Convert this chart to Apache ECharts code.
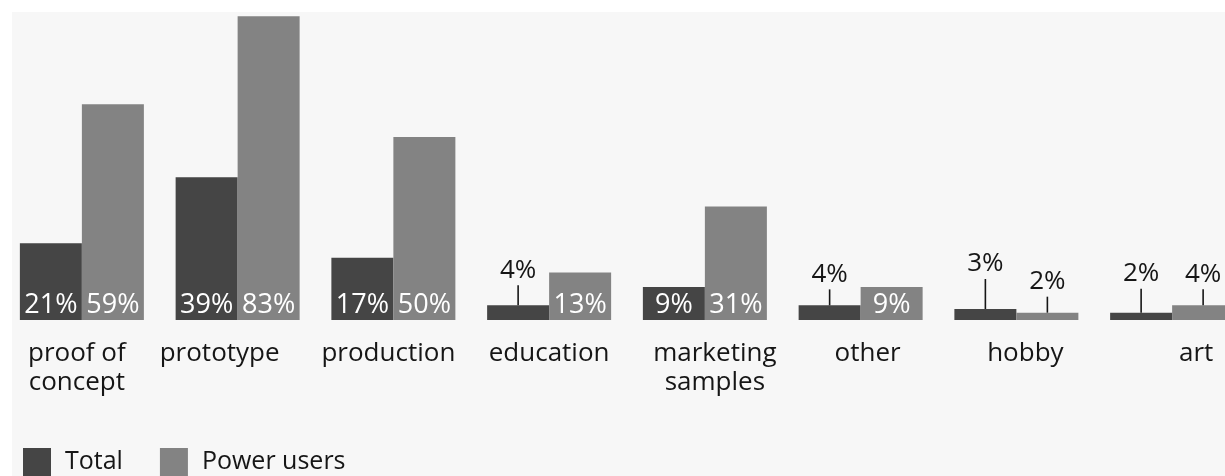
<!DOCTYPE html>
<html>
<head>
<meta charset="utf-8">
<script src="https://cdn.jsdelivr.net/npm/echarts@6/dist/echarts.min.js"></script>
<style>
  html, body { margin: 0; padding: 0; background: #ffffff; }
  #wrap { position: relative; width: 1225px; height: 476px; overflow: hidden; }
  #bg { position: absolute; left: 12px; top: 12px; right: 0; bottom: 0; background: #f7f7f7; }
  #chart { position: absolute; left: 0; top: 0; width: 1225px; height: 476px; }
</style>
</head>
<body>
<div id="wrap"><div id="bg"></div><div id="chart"></div></div>
<script>
// ---- data ----
const categories = ['proof of\nconcept', 'prototype', 'production', 'education', 'marketing\nsamples', 'other', 'hobby', 'art'];
const totalValues = [21, 39, 17, 4, 9, 4, 3, 2];
const powerValues = [59, 83, 50, 13, 31, 9, 2, 4];
const seriesNames = ['Total', 'Power users'];

// ---- style ----
const totalColor = '#454545';
const powerColor = '#838383';
const textColor = '#161616';
const fontFamily = '"Open Sans", "Noto Sans", sans-serif';
const labelShift = [-5, -18, -5, 0, 10, 7, 9, 24];      // horizontal nudge for category labels
const totalLeader = [0, 0, 0, 20, 0, 16, 30, 24];        // leader line length for outside labels
const powerLeader = [0, 0, 0, 0, 0, 0, 16, 16];
const insideMin = 8;

function makeSeriesData(values, leaders) {
  return values.map((v, i) => {
    if (v >= insideMin) {
      return {
        value: v,
        label: {
          show: true, position: 'insideBottom', distance: 1,
          color: '#ffffff', fontSize: 27, fontFamily: fontFamily,
          formatter: '{c}%'
        }
      };
    }
    return {
      value: v,
      label: {
        show: true, position: 'top', distance: 0,
        formatter: '{t|' + v + '%}\n{l| }',
        rich: {
          t: { color: textColor, fontSize: 26, lineHeight: 30, fontFamily: fontFamily, align: 'center' },
          l: { width: 1.6, height: leaders[i], lineHeight: leaders[i], backgroundColor: textColor, align: 'center' }
        }
      }
    };
  });
}

const richCats = {};
labelShift.forEach((s, i) => {
  richCats['c' + i] = {
    fontSize: 26, lineHeight: 29, color: textColor, fontFamily: fontFamily,
    padding: s >= 0 ? [0, 0, 0, 2 * s] : [0, -2 * s, 0, 0]
  };
});

const chart = echarts.init(document.getElementById('chart'), null, { renderer: 'canvas' });
chart.setOption({
  animation: false,
  backgroundColor: 'transparent',
  grid: { left: 4, width: 1246, top: 9, bottom: 156, containLabel: false, outerBoundsMode: 'none' },
  legend: {
    left: 23, top: 448, padding: 0,
    itemWidth: 28, itemHeight: 28, itemGap: 37,
    icon: 'rect',
    data: seriesNames,
    textStyle: { fontSize: 25, color: textColor, fontFamily: fontFamily, padding: [0, 0, 0, 9] }
  },
  xAxis: {
    type: 'category',
    data: categories,
    axisLine: { show: false },
    axisTick: { show: false },
    axisLabel: {
      margin: 19,
      interval: 0,
      hideOverlap: false,
      formatter: (value, index) => value.split('\n').map(l => '{c' + index + '|' + l + '}').join('\n'),
      rich: richCats
    }
  },
  yAxis: {
    type: 'value', min: 0, max: 85,
    show: false,
    splitLine: { show: false }
  },
  series: [
    {
      name: seriesNames[0], type: 'bar', barWidth: 62, barGap: '0%',
      itemStyle: { color: totalColor },
      data: makeSeriesData(totalValues, totalLeader)
    },
    {
      name: seriesNames[1], type: 'bar', barWidth: 62, barGap: '0%',
      itemStyle: { color: powerColor },
      data: makeSeriesData(powerValues, powerLeader)
    }
  ]
});
</script>
</body>
</html>
